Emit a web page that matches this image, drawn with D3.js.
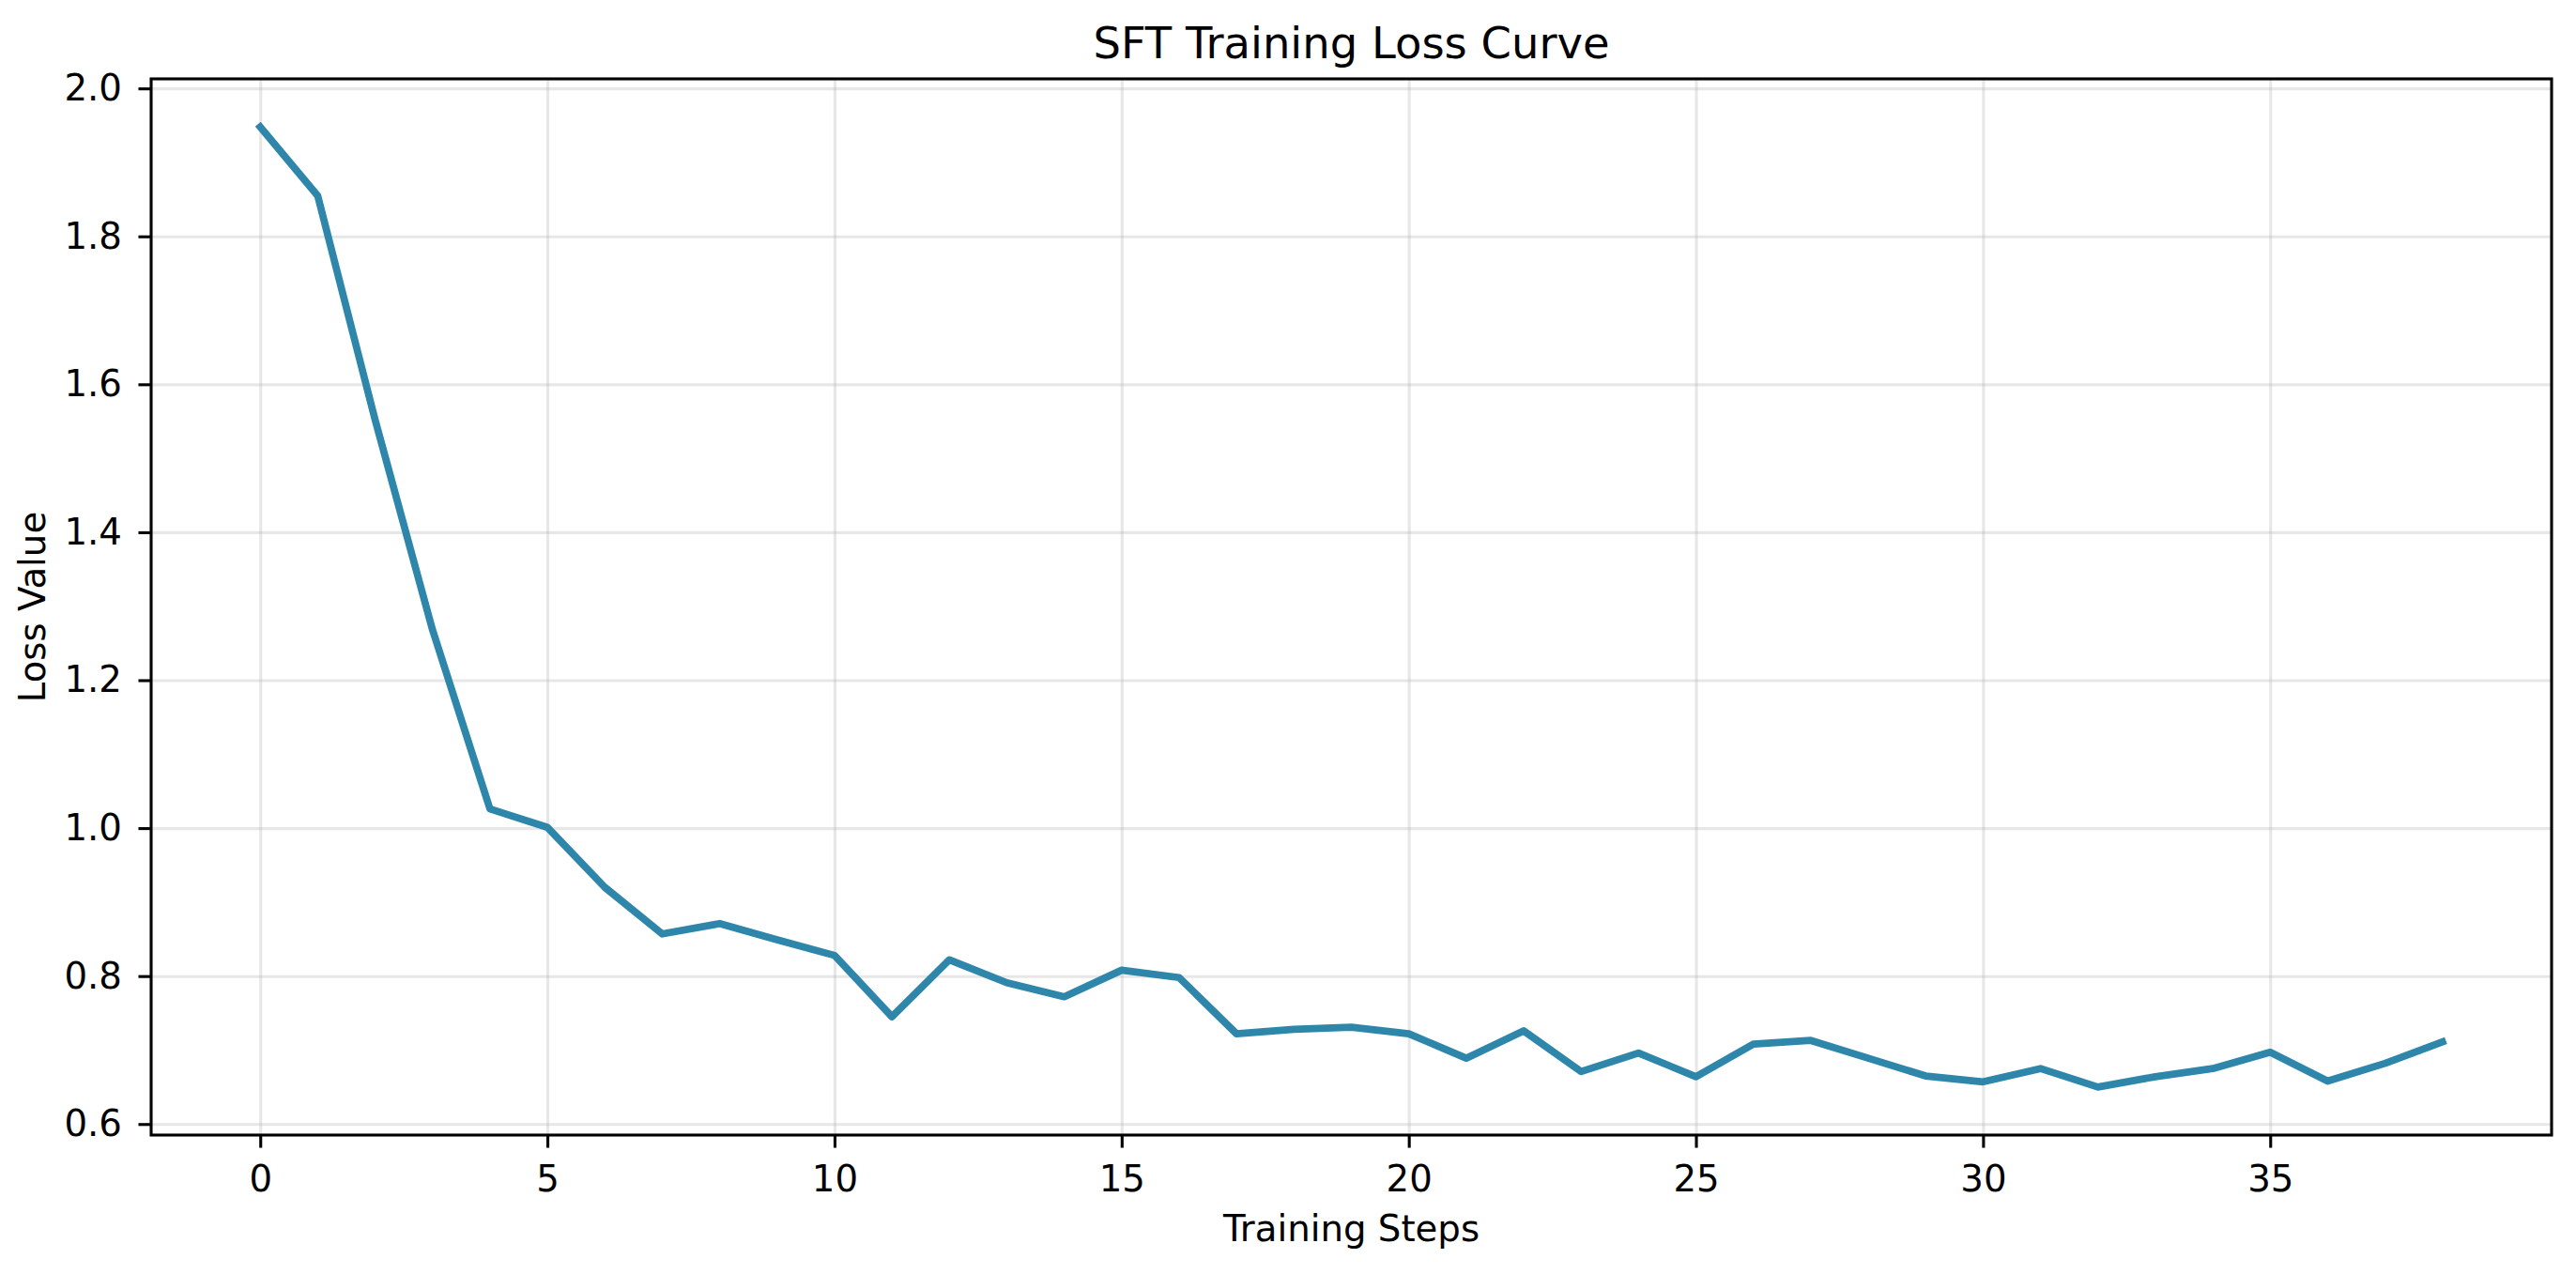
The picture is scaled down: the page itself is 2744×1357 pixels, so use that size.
<!DOCTYPE html>
<html>
<head>
<meta charset="utf-8">
<script src="https://cdn.jsdelivr.net/npm/d3@7/dist/d3.min.js"></script>
<style>
  body { margin: 0; background: #fff; }
  svg text { font-family: "DejaVu Sans", sans-serif; fill: #000; }
</style>
</head>
<body>
<script>
/** Data */
const steps = [0, 1, 2, 3, 4, 5, 6, 7, 8, 9, 10, 11, 12, 13, 14, 15, 16, 17, 18, 19,
  20, 21, 22, 23, 24, 25, 26, 27, 28, 29, 30, 31, 32, 33, 34, 35, 36, 37, 38];
const lossValues = [1.948, 1.855, 1.552, 1.268, 1.026, 1.001, 0.920, 0.857, 0.871, 0.849,
  0.828, 0.745, 0.822, 0.791, 0.772, 0.808, 0.798, 0.722, 0.728, 0.731,
  0.722, 0.689, 0.726, 0.671, 0.696, 0.664, 0.708, 0.713, 0.689, 0.665,
  0.657, 0.675, 0.650, 0.664, 0.675, 0.697, 0.658, 0.682, 0.711];
const xTicks = [0, 5, 10, 15, 20, 25, 30, 35];
const yTicks = [0.6, 0.8, 1.0, 1.2, 1.4, 1.6, 1.8, 2.0];
const titleText = "SFT Training Loss Curve";
const xLabelText = "Training Steps";
const yLabelText = "Loss Value";

/** Layout (px), matplotlib-like look */
const width = 2744;
const height = 1357;
const margin = { top: 84, right: 26, bottom: 148, left: 161 };
const innerW = width - margin.left - margin.right;
const innerH = height - margin.top - margin.bottom;
const pt = 3.87;              // px per point
const lineColor = "#2E86AB";
const fontSize = 10 * pt;

// matplotlib pads the data range by 5% on each side
function padded(extent) {
  const d = (extent[1] - extent[0]) * 0.05;
  return [extent[0] - d, extent[1] + d];
}

const xScale = d3.scaleLinear()
  .domain(padded(d3.extent(steps)))
  .range([0, innerW]);
const yScale = d3.scaleLinear()
  .domain(padded(d3.extent(lossValues)))
  .range([innerH, 0]);

const svg = d3.select("body").append("svg")
  .attr("width", width)
  .attr("height", height)
  .style("display", "block");

svg.append("rect").attr("width", width).attr("height", height).attr("fill", "#fff");

const g = svg.append("g")
  .attr("transform", "translate(" + margin.left + "," + margin.top + ")");

// grid
const grid = g.append("g").attr("class", "grid");
grid.append("g")
  .attr("transform", "translate(0," + innerH + ")")
  .call(d3.axisBottom(xScale).tickValues(xTicks).tickSize(-innerH).tickFormat(""));
grid.append("g")
  .call(d3.axisLeft(yScale).tickValues(yTicks).tickSize(-innerW).tickFormat(""));
grid.selectAll(".domain").remove();
grid.selectAll("line")
  .attr("stroke", "#b0b0b0")
  .attr("stroke-opacity", 0.3)
  .attr("stroke-width", 0.8 * pt);

// loss line
const line = d3.line()
  .x((d, i) => xScale(steps[i]))
  .y((d) => yScale(d));

g.append("path")
  .datum(lossValues)
  .attr("d", line)
  .attr("fill", "none")
  .attr("stroke", lineColor)
  .attr("stroke-width", 2 * pt)
  .attr("stroke-linejoin", "round")
  .attr("stroke-linecap", "square");

// axes
const xAxis = g.append("g")
  .attr("transform", "translate(0," + innerH + ")")
  .call(d3.axisBottom(xScale).tickValues(xTicks).tickSize(3.5 * pt).tickPadding(18.5)
    .tickFormat(d3.format("d")));
const yAxis = g.append("g")
  .call(d3.axisLeft(yScale).tickValues(yTicks).tickSize(3.5 * pt).tickPadding(3.5 * pt + 4)
    .tickFormat(d3.format(".1f")));

[xAxis, yAxis].forEach((ax) => {
  ax.select(".domain").remove();
  ax.selectAll("line").attr("stroke", "#000").attr("stroke-width", 0.8 * pt);
  ax.selectAll("text")
    .attr("font-size", fontSize + "px")
    .attr("fill", "#000");
});

// frame (all four spines)
g.append("rect")
  .attr("width", innerW)
  .attr("height", innerH)
  .attr("fill", "none")
  .attr("stroke", "#000")
  .attr("stroke-width", 0.8 * pt);

// title and labels
svg.append("text")
  .attr("x", margin.left + innerW / 2)
  .attr("y", 62)
  .attr("text-anchor", "middle")
  .attr("font-size", 12 * pt + "px")
  .text(titleText);

svg.append("text")
  .attr("x", margin.left + innerW / 2)
  .attr("y", 1322)
  .attr("text-anchor", "middle")
  .attr("font-size", fontSize + "px")
  .text(xLabelText);

svg.append("text")
  .attr("transform", "translate(48," + (margin.top + innerH / 2) + ") rotate(-90)")
  .attr("text-anchor", "middle")
  .attr("font-size", fontSize + "px")
  .text(yLabelText);
</script>
</body>
</html>
